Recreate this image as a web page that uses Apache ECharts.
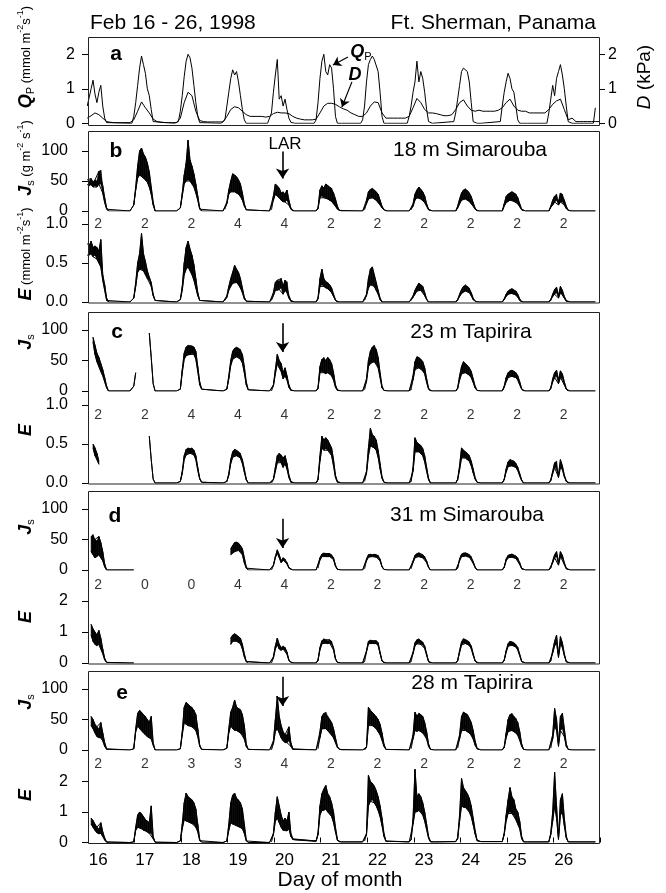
<!DOCTYPE html>
<html>
<head>
<meta charset="utf-8">
<script src="https://cdn.jsdelivr.net/npm/echarts@6/dist/echarts.min.js"></script>
<style>
  html, body { margin: 0; padding: 0; background: #fff; }
  #chart { width: 666px; height: 893px; }
</style>
</head>
<body>
<div id="chart"></div>
<script>
// ---- data ----
// rows = days 16..27, values at the listed local hours
const dayHours = [6, 7, 8, 9, 10, 11, 12, 13, 14, 15, 16, 17, 18, 19];
const qpHours = [5, 6, 7, 8, 9, 10, 11, 12, 13, 14, 15, 16, 17, 18, 19];
const vpdHours = [0, 2, 4, 6, 8, 10, 12, 14, 16, 18, 20, 22];
const dayLabels = [16, 17, 18, 19, 20, 21, 22, 23, 24, 25, 26];
const dayTicks = [16, 17, 18, 19, 20, 21, 22, 23, 24, 25, 26, 27];

// panel a: photon flux Qp (mmol m-2 s-1)
const qpRows = [
  [null, null, null, 0.5, 0.75, 1.0, 1.25, 0.85, 0.6, 0.9, 1.1, 0.5, 0.15, 0.02, 0],
  [0, 0, 0, 0.2, 0.6, 1.1, 1.6, 1.95, 1.7, 1.45, 1.0, 0.8, 0.4, 0.05, 0],
  [0, 0, 0.05, 0.35, 0.8, 1.35, 1.8, 2.0, 1.9, 1.6, 1.1, 0.6, 0.2, 0.02, 0],
  [0, 0, 0.1, 0.5, 0.9, 1.3, 1.55, 1.4, 1.5, 1.2, 0.8, 0.4, 0.1, 0, 0],
  [0, 0, 0.3, 0.9, 1.4, 1.85, 0.7, 0.8, 0.5, 0.7, 0.4, 0.15, 0.03, 0, 0],
  [0, 0.1, 0.6, 1.3, 1.8, 2.0, 1.5, 1.4, 1.7, 1.6, 1.0, 0.2, 0, 0, 0],
  [0, 0.1, 0.5, 1.2, 1.7, 1.85, 1.95, 1.85, 1.9, 1.5, 0.9, 0.2, 0, 0, 0],
  [0, 0.2, 0.5, 0.9, 1.2, 1.8, 1.2, 1.5, 1.3, 0.9, 0.4, 0.05, 0, 0, 0],
  [0.05, 0.3, 0.7, 1.1, 1.5, 1.6, 1.55, 1.5, 1.2, 0.6, 0.05, 0, 0, 0, 0],
  [0.05, 0.5, 0.9, 1.2, 1.45, 1.3, 1.0, 0.9, 0.5, 0.1, 0, 0, 0, 0, 0],
  [0, 0.3, 0.7, 1.1, 0.8, 1.3, 1.5, 1.7, 1.4, 1.0, 0.5, 0.05, 0, 0, 0],
  [0, 0.45]
];
// panel a: vapour pressure deficit D (kPa)
const vpdRows = [
  [null, null, null, null, 0.15, 0.22, 0.3, 0.25, 0.15, 0.05, 0.03, 0.02],
  [0.02, 0.02, 0.02, 0.02, 0.1, 0.35, 0.62, 0.45, 0.3, 0.12, 0.05, 0.03],
  [0.02, 0.02, 0.02, 0.02, 0.15, 0.6, 0.9, 0.8, 0.35, 0.08, 0.05, 0.04],
  [0.04, 0.04, 0.04, 0.04, 0.2, 0.4, 0.48, 0.45, 0.35, 0.25, 0.2, 0.2],
  [0.2, 0.2, 0.18, 0.2, 0.28, 0.32, 0.3, 0.3, 0.28, 0.2, 0.15, 0.12],
  [0.1, 0.1, 0.1, 0.12, 0.3, 0.5, 0.58, 0.58, 0.55, 0.48, 0.42, 0.38],
  [0.3, 0.25, 0.2, 0.2, 0.3, 0.5, 0.62, 0.6, 0.3, 0.15, 0.15, 0.15],
  [0.15, 0.15, 0.15, 0.2, 0.45, 0.72, 0.6, 0.4, 0.3, 0.3, 0.28, 0.25],
  [0.22, 0.22, 0.25, 0.4, 0.6, 0.68, 0.5, 0.38, 0.35, 0.38, 0.35, 0.35],
  [0.35, 0.35, 0.38, 0.45, 0.6, 0.7, 0.5, 0.38, 0.35, 0.35, 0.3, 0.3],
  [0.3, 0.3, 0.3, 0.4, 0.55, 0.65, 0.7, 0.4, 0.1, 0.15, 0.05, 0.05],
  [0.05, 0.05, 0.05, 0.05, 0.05]
];

// panel b: 18 m Simarouba, sap flux Js (upper / lower edge of trace) and E
const bJsHi = [
  [50, 50, 52, 50, 54, 48, 52, 50, 66, 68, 42, 22, 5, 0],
  [0, 0, 10, 40, 75, 100, 105, 95, 90, 80, 65, 40, 15, 0],
  [0, 0, 5, 30, 60, 80, 118, 85, 75, 62, 45, 25, 5, 0],
  [0, 3, 15, 35, 50, 62, 60, 57, 52, 45, 30, 12, 2, 0],
  [0, 2, 25, 45, 42, 38, 30, 32, 28, 35, 18, 5, 0, 0],
  [0, 5, 35, 42, 38, 45, 42, 40, 38, 30, 20, 8, 1, 0],
  [0, 2, 18, 32, 36, 38, 35, 32, 28, 18, 8, 2, 0, 0],
  [0, 2, 12, 28, 35, 40, 36, 32, 25, 12, 3, 0, 0, 0],
  [0, 8, 20, 30, 35, 37, 34, 30, 24, 14, 5, 0, 0, 0],
  [0, 12, 24, 28, 30, 32, 30, 28, 22, 12, 3, 0, 0, 0],
  [0, 8, 18, 25, 28, 15, 30, 28, 18, 8, 1, 0, 0, 0],
  [0]
];
const bJsLo = [
  [44, 44, 44, 42, 44, 40, 42, 40, 45, 45, 30, 14, 3, 0],
  [0, 0, 10, 35, 55, 60, 58, 55, 52, 48, 40, 28, 10, 0],
  [0, 0, 5, 25, 45, 50, 52, 50, 45, 40, 30, 18, 3, 0],
  [0, 3, 12, 28, 32, 32, 32, 30, 28, 24, 18, 8, 2, 0],
  [0, 2, 18, 28, 25, 22, 18, 15, 15, 18, 10, 3, 0, 0],
  [0, 4, 22, 25, 22, 22, 20, 18, 16, 12, 8, 3, 1, 0],
  [0, 2, 12, 20, 22, 22, 20, 18, 14, 10, 5, 2, 0, 0],
  [0, 2, 8, 18, 22, 22, 20, 18, 14, 8, 2, 0, 0, 0],
  [0, 5, 12, 18, 20, 20, 18, 16, 12, 8, 3, 0, 0, 0],
  [0, 8, 14, 16, 18, 18, 16, 15, 12, 7, 2, 0, 0, 0],
  [0, 6, 10, 15, 18, 10, 15, 15, 10, 4, 1, 0, 0, 0],
  [0]
];
const bEHi = [
  [0.75, 0.75, 0.75, 0.72, 0.78, 0.7, 0.72, 0.7, 0.65, 0.8, 0.35, 0.22, 0.05, 0],
  [0, 0, 0.05, 0.25, 0.5, 0.62, 0.88, 0.62, 0.52, 0.4, 0.32, 0.25, 0.1, 0.02],
  [0, 0, 0.03, 0.2, 0.5, 0.7, 0.78, 0.68, 0.6, 0.48, 0.3, 0.12, 0.02, 0],
  [0, 0.02, 0.08, 0.2, 0.3, 0.38, 0.47, 0.42, 0.38, 0.3, 0.18, 0.06, 0.01, 0],
  [0, 0.02, 0.12, 0.25, 0.28, 0.27, 0.3, 0.2, 0.28, 0.26, 0.08, 0.02, 0, 0],
  [0, 0.05, 0.3, 0.42, 0.3, 0.26, 0.25, 0.22, 0.18, 0.1, 0.03, 0, 0, 0],
  [0, 0.02, 0.1, 0.3, 0.42, 0.45, 0.35, 0.25, 0.15, 0.05, 0, 0, 0, 0],
  [0, 0.02, 0.08, 0.15, 0.2, 0.24, 0.22, 0.2, 0.12, 0.04, 0, 0, 0, 0],
  [0, 0.03, 0.1, 0.16, 0.2, 0.22, 0.2, 0.18, 0.12, 0.05, 0.01, 0, 0, 0],
  [0, 0.04, 0.1, 0.14, 0.16, 0.17, 0.15, 0.14, 0.1, 0.04, 0, 0, 0, 0],
  [0, 0.03, 0.1, 0.16, 0.19, 0.08, 0.2, 0.15, 0.07, 0.02, 0, 0, 0, 0],
  [0]
];
const bELo = [
  [0.6, 0.6, 0.6, 0.6, 0.62, 0.58, 0.6, 0.55, 0.5, 0.45, 0.28, 0.15, 0.02, 0],
  [0, 0, 0.05, 0.2, 0.38, 0.42, 0.42, 0.4, 0.35, 0.3, 0.28, 0.2, 0.08, 0.02],
  [0, 0, 0.03, 0.15, 0.35, 0.42, 0.45, 0.4, 0.35, 0.28, 0.18, 0.08, 0.02, 0],
  [0, 0.02, 0.06, 0.15, 0.2, 0.24, 0.25, 0.25, 0.22, 0.18, 0.12, 0.04, 0.01, 0],
  [0, 0.02, 0.08, 0.15, 0.15, 0.16, 0.18, 0.1, 0.15, 0.12, 0.05, 0.01, 0, 0],
  [0, 0.04, 0.2, 0.22, 0.2, 0.18, 0.17, 0.15, 0.12, 0.07, 0.02, 0, 0, 0],
  [0, 0.02, 0.08, 0.18, 0.22, 0.22, 0.2, 0.15, 0.1, 0.03, 0, 0, 0, 0],
  [0, 0.02, 0.06, 0.1, 0.14, 0.15, 0.15, 0.13, 0.08, 0.03, 0, 0, 0, 0],
  [0, 0.02, 0.07, 0.11, 0.13, 0.14, 0.13, 0.12, 0.08, 0.03, 0.01, 0, 0, 0],
  [0, 0.03, 0.07, 0.1, 0.11, 0.11, 0.1, 0.09, 0.06, 0.02, 0, 0, 0, 0],
  [0, 0.02, 0.07, 0.1, 0.12, 0.05, 0.12, 0.1, 0.05, 0.01, 0, 0, 0, 0],
  [0]
];

// panel c: 23 m Tapirira
const cJsHi = [
  [null, null, null, null, null, 88, 75, 62, 55, 45, 35, 22, 8, 0],
  [0, 0, 8, 30, null, null, null, null, null, null, 95, 55, 12, 0],
  [0, 0, 3, 35, 62, 72, 75, 74, 74, 72, 65, 40, 15, 3],
  [0, 0, 3, 25, 50, 65, 70, 72, 70, 68, 60, 40, 15, 2],
  [0, 0, 10, 35, 60, 50, 45, 30, 38, 25, 10, 2, 0, 0],
  [0, 5, 40, 52, 55, 50, 55, 52, 45, 30, 10, 2, 0, 0],
  [0, 2, 20, 50, 65, 72, 75, 68, 55, 30, 8, 1, 0, 0],
  [0, 3, 25, 48, 56, 55, 52, 48, 38, 20, 5, 0, 0, 0],
  [0, 5, 25, 40, 48, 45, 42, 38, 32, 20, 8, 1, 0, 0],
  [0, 8, 22, 30, 33, 34, 32, 30, 25, 15, 4, 0, 0, 0],
  [0, 5, 20, 30, 34, 18, 33, 28, 15, 4, 0, 0, 0, 0],
  [0]
];
const cJsLo = [
  [null, null, null, null, null, 80, 60, 48, 40, 32, 25, 15, 5, 0],
  [0, 0, 8, 30, null, null, null, null, null, null, 95, 55, 12, 0],
  [0, 0, 3, 30, 52, 58, 60, 60, 62, 60, 52, 32, 10, 3],
  [0, 0, 3, 20, 42, 52, 55, 56, 55, 52, 46, 30, 10, 2],
  [0, 0, 8, 28, 45, 38, 32, 20, 25, 18, 6, 1, 0, 0],
  [0, 4, 30, 32, 30, 28, 30, 28, 25, 18, 6, 1, 0, 0],
  [0, 2, 15, 40, 45, 48, 48, 45, 38, 22, 5, 1, 0, 0],
  [0, 2, 18, 35, 38, 38, 36, 33, 28, 14, 3, 0, 0, 0],
  [0, 4, 18, 28, 30, 30, 28, 26, 22, 14, 5, 1, 0, 0],
  [0, 6, 15, 22, 24, 24, 23, 22, 18, 10, 3, 0, 0, 0],
  [0, 4, 15, 22, 24, 12, 22, 20, 10, 3, 0, 0, 0, 0],
  [0]
];
const cEHi = [
  [null, null, null, null, null, 0.5, 0.45, 0.38, 0.28, null, null, null, null, null],
  [null, null, null, null, null, null, null, null, null, null, 0.6, 0.3, 0.05, 0],
  [0, 0, 0.02, 0.15, 0.35, 0.43, 0.45, 0.44, 0.45, 0.42, 0.35, 0.2, 0.06, 0.01],
  [0, 0, 0.02, 0.12, 0.3, 0.4, 0.43, 0.42, 0.4, 0.38, 0.3, 0.18, 0.05, 0],
  [0, 0, 0.05, 0.2, 0.35, 0.38, 0.36, 0.32, 0.35, 0.25, 0.1, 0.02, 0, 0],
  [0, 0.05, 0.35, 0.6, 0.55, 0.58, 0.55, 0.5, 0.45, 0.3, 0.1, 0.02, 0, 0],
  [0, 0.02, 0.15, 0.45, 0.7, 0.62, 0.6, 0.55, 0.42, 0.25, 0.08, 0.01, 0, 0],
  [0, 0.03, 0.2, 0.58, 0.52, 0.5, 0.48, 0.44, 0.35, 0.2, 0.06, 0, 0, 0],
  [0, 0.05, 0.22, 0.45, 0.42, 0.4, 0.38, 0.35, 0.28, 0.18, 0.07, 0.01, 0, 0],
  [0, 0.05, 0.18, 0.27, 0.3, 0.28, 0.28, 0.25, 0.2, 0.12, 0.04, 0, 0, 0],
  [0, 0.04, 0.15, 0.26, 0.28, 0.1, 0.3, 0.22, 0.1, 0.03, 0, 0, 0, 0],
  [0]
];
const cELo = [
  [null, null, null, null, null, 0.45, 0.35, 0.3, 0.24, null, null, null, null, null],
  [null, null, null, null, null, null, null, null, null, null, 0.6, 0.3, 0.05, 0],
  [0, 0, 0.02, 0.12, 0.3, 0.36, 0.38, 0.38, 0.38, 0.36, 0.3, 0.16, 0.05, 0.01],
  [0, 0, 0.02, 0.1, 0.25, 0.33, 0.35, 0.35, 0.34, 0.32, 0.25, 0.14, 0.04, 0],
  [0, 0, 0.04, 0.15, 0.26, 0.28, 0.26, 0.2, 0.25, 0.18, 0.07, 0.01, 0, 0],
  [0, 0.04, 0.28, 0.45, 0.42, 0.44, 0.42, 0.4, 0.35, 0.22, 0.07, 0.01, 0, 0],
  [0, 0.02, 0.12, 0.35, 0.48, 0.46, 0.45, 0.42, 0.33, 0.18, 0.06, 0.01, 0, 0],
  [0, 0.02, 0.15, 0.4, 0.4, 0.4, 0.38, 0.35, 0.27, 0.15, 0.04, 0, 0, 0],
  [0, 0.04, 0.17, 0.32, 0.33, 0.32, 0.3, 0.28, 0.22, 0.13, 0.05, 0.01, 0, 0],
  [0, 0.04, 0.14, 0.21, 0.22, 0.22, 0.21, 0.2, 0.16, 0.09, 0.03, 0, 0, 0],
  [0, 0.03, 0.12, 0.2, 0.2, 0.07, 0.2, 0.17, 0.08, 0.02, 0, 0, 0, 0],
  [0]
];

// panel d: 31 m Simarouba
const N14 = [null, null, null, null, null, null, null, null, null, null, null, null, null, null];
const dJsHi = [
  [null, null, null, null, 55, 58, 50, 48, 55, 45, 30, 10, 0, 0],
  [0, 0, 0, null, null, null, null, null, null, null, null, null, null, null],
  N14,
  [null, null, null, null, 35, 40, 45, 46, 44, 40, 35, 20, 5, 0],
  [0, 0, 8, 22, 33, 25, 15, 20, 18, 12, 4, 1, 0, 0],
  [0, 3, 20, 26, 28, 27, 26, 27, 25, 20, 8, 1, 0, 0],
  [0, 2, 18, 25, 26, 25, 26, 25, 24, 18, 6, 1, 0, 0],
  [0, 2, 15, 24, 27, 28, 26, 25, 22, 15, 5, 0, 0, 0],
  [0, 4, 18, 26, 28, 28, 27, 25, 22, 14, 5, 0, 0, 0],
  [0, 5, 18, 24, 25, 26, 24, 23, 20, 12, 3, 0, 0, 0],
  [0, 4, 15, 25, 30, 12, 30, 24, 12, 3, 0, 0, 0, 0],
  [0]
];
const dJsLo = [
  [null, null, null, null, 30, 25, 20, 22, 25, 20, 15, 5, 0, 0],
  [0, 0, 0, null, null, null, null, null, null, null, null, null, null, null],
  N14,
  [null, null, null, null, 25, 28, 30, 32, 32, 30, 25, 12, 3, 0],
  [0, 0, 7, 20, 28, 20, 12, 16, 15, 10, 3, 1, 0, 0],
  [0, 3, 16, 22, 23, 22, 22, 22, 21, 17, 6, 1, 0, 0],
  [0, 2, 15, 21, 22, 22, 22, 21, 20, 15, 5, 1, 0, 0],
  [0, 2, 12, 20, 22, 22, 21, 20, 18, 12, 4, 0, 0, 0],
  [0, 3, 15, 22, 22, 23, 22, 21, 18, 11, 4, 0, 0, 0],
  [0, 4, 15, 20, 21, 21, 20, 19, 16, 9, 2, 0, 0, 0],
  [0, 3, 12, 20, 22, 8, 22, 19, 9, 2, 0, 0, 0, 0],
  [0]
];
const dEHi = [
  [null, null, null, null, 1.25, 1.1, 1.0, 0.9, 1.05, 0.8, 0.45, 0.15, 0.02, 0],
  [0, 0, 0, null, null, null, null, null, null, null, null, null, null, null],
  N14,
  [null, null, null, null, 0.8, 0.9, 0.95, 0.9, 0.85, 0.8, 0.6, 0.3, 0.05, 0],
  [0, 0, 0.2, 0.55, 0.8, 0.6, 0.5, 0.55, 0.5, 0.35, 0.1, 0.02, 0, 0],
  [0, 0.1, 0.5, 0.72, 0.78, 0.75, 0.72, 0.75, 0.7, 0.5, 0.15, 0.02, 0, 0],
  [0, 0.05, 0.4, 0.7, 0.74, 0.72, 0.7, 0.72, 0.65, 0.35, 0.08, 0.01, 0, 0],
  [0, 0.05, 0.35, 0.65, 0.75, 0.78, 0.72, 0.68, 0.55, 0.3, 0.05, 0, 0, 0],
  [0, 0.08, 0.4, 0.68, 0.78, 0.75, 0.72, 0.68, 0.55, 0.3, 0.08, 0, 0, 0],
  [0, 0.1, 0.4, 0.62, 0.7, 0.68, 0.65, 0.6, 0.5, 0.28, 0.06, 0, 0, 0],
  [0, 0.08, 0.4, 0.7, 0.9, 0.25, 0.85, 0.65, 0.3, 0.05, 0, 0, 0, 0],
  [0]
];
const dELo = [
  [null, null, null, null, 0.9, 0.7, 0.6, 0.55, 0.6, 0.45, 0.3, 0.1, 0.02, 0],
  [0, 0, 0, null, null, null, null, null, null, null, null, null, null, null],
  N14,
  [null, null, null, null, 0.6, 0.7, 0.72, 0.7, 0.68, 0.62, 0.45, 0.2, 0.04, 0],
  [0, 0, 0.15, 0.45, 0.6, 0.45, 0.4, 0.45, 0.4, 0.28, 0.08, 0.02, 0, 0],
  [0, 0.08, 0.42, 0.62, 0.65, 0.64, 0.62, 0.64, 0.6, 0.42, 0.12, 0.02, 0, 0],
  [0, 0.04, 0.35, 0.62, 0.64, 0.63, 0.62, 0.63, 0.56, 0.3, 0.06, 0.01, 0, 0],
  [0, 0.04, 0.3, 0.55, 0.62, 0.64, 0.6, 0.58, 0.47, 0.25, 0.04, 0, 0, 0],
  [0, 0.07, 0.34, 0.58, 0.64, 0.63, 0.6, 0.57, 0.46, 0.25, 0.06, 0, 0, 0],
  [0, 0.08, 0.34, 0.54, 0.58, 0.57, 0.55, 0.52, 0.42, 0.23, 0.05, 0, 0, 0],
  [0, 0.06, 0.32, 0.55, 0.65, 0.18, 0.62, 0.5, 0.24, 0.04, 0, 0, 0, 0],
  [0]
];

// panel e: 28 m Tapirira
const eJsHi = [
  [null, null, null, null, 55, 50, 42, 38, 35, 45, 28, 12, 2, 0],
  [0, 0, 2, 35, 60, 65, 62, 58, 55, 50, 45, 55, 12, 0],
  [0, 0, 2, 30, 70, 78, 75, 72, 70, 65, 58, 35, 8, 1],
  [0, 0, 3, 35, 62, 70, 82, 70, 68, 66, 58, 40, 10, 1],
  [0, 0, 15, 50, 88, 55, 40, 30, 25, 25, 38, 12, 2, 0],
  [0, 2, 30, 55, 60, 62, 55, 50, 45, 35, 20, 6, 1, 0],
  [0, 0, 5, 70, 65, 62, 58, 55, 50, 42, 28, 10, 1, 0],
  [0, 2, 25, 62, 55, 60, 58, 55, 45, 30, 10, 1, 0, 0],
  [0, 3, 25, 55, 62, 60, 58, 52, 45, 32, 15, 3, 0, 0],
  [0, 5, 28, 50, 58, 60, 55, 52, 45, 30, 10, 1, 0, 0],
  [0, 3, 25, 68, 50, 10, 55, 60, 35, 10, 1, 0, 0, 0],
  [0]
];
const eJsLo = [
  [null, null, null, null, 40, 35, 28, 22, 20, 20, 15, 6, 1, 0],
  [0, 0, 2, 30, 40, 35, 32, 28, 25, 22, 20, 18, 8, 0],
  [0, 0, 2, 25, 45, 42, 40, 40, 38, 36, 32, 22, 6, 1],
  [0, 0, 3, 28, 40, 35, 32, 32, 30, 28, 25, 18, 6, 1],
  [0, 0, 10, 30, 35, 28, 20, 15, 12, 12, 15, 6, 1, 0],
  [0, 2, 20, 35, 35, 35, 32, 28, 25, 20, 12, 4, 1, 0],
  [0, 0, 4, 40, 42, 40, 38, 35, 30, 25, 16, 6, 1, 0],
  [0, 2, 18, 32, 30, 32, 30, 28, 25, 18, 6, 1, 0, 0],
  [0, 3, 18, 32, 34, 32, 30, 28, 24, 18, 8, 2, 0, 0],
  [0, 4, 20, 30, 32, 32, 30, 28, 24, 16, 6, 1, 0, 0],
  [0, 3, 18, 40, 32, 6, 32, 35, 22, 6, 1, 0, 0, 0],
  [0]
];
const eEHi = [
  [null, null, null, null, 0.8, 0.72, 0.6, 0.5, 0.45, 0.65, 0.35, 0.15, 0.02, 0],
  [0, 0, 0.02, 0.5, 0.9, 1.0, 0.95, 0.85, 0.75, 0.7, 0.65, 1.2, 0.2, 0.01],
  [0, 0.02, 0.05, 0.6, 1.3, 1.62, 1.5, 1.45, 1.4, 1.3, 1.1, 0.6, 0.1, 0.01],
  [0, 0.02, 0.05, 0.6, 1.3, 1.55, 1.62, 1.45, 1.4, 1.3, 1.1, 0.6, 0.08, 0],
  [0, 0.02, 0.3, 1.0, 1.5, 1.2, 0.9, 0.7, 0.8, 0.7, 1.0, 0.3, 0.12, 0.1],
  [0.05, 0.3, 1.2, 1.6, 1.75, 1.87, 1.6, 1.5, 1.3, 1.0, 0.5, 0.1, 0.02, 0.02],
  [0.02, 0.05, 0.3, 2.2, 2.0, 1.95, 1.85, 1.7, 1.5, 1.2, 0.8, 0.3, 0.05, 0.02],
  [0.02, 0.1, 0.8, 2.4, 1.5, 1.6, 1.5, 1.3, 1.0, 0.6, 0.2, 0.03, 0.02, 0.02],
  [0.03, 0.15, 0.9, 2.1, 1.8, 1.7, 1.6, 1.45, 1.2, 0.8, 0.4, 0.08, 0.03, 0.03],
  [0.03, 0.3, 0.9, 1.4, 1.8, 1.5, 1.4, 1.1, 1.0, 0.7, 0.2, 0.02, 0.02, 0.02],
  [0.02, 0.3, 1.0, 2.3, 1.2, 0.15, 1.4, 1.6, 0.8, 0.2, 0.02, 0.02, 0.02, 0.02],
  [0.02]
];
const eELo = [
  [null, null, null, null, 0.6, 0.5, 0.4, 0.32, 0.28, 0.3, 0.2, 0.08, 0.01, 0],
  [0, 0, 0.02, 0.4, 0.5, 0.48, 0.45, 0.4, 0.38, 0.35, 0.3, 0.3, 0.12, 0.01],
  [0, 0.02, 0.05, 0.45, 0.75, 0.7, 0.68, 0.65, 0.62, 0.6, 0.5, 0.35, 0.06, 0.01],
  [0, 0.02, 0.05, 0.4, 0.65, 0.6, 0.58, 0.55, 0.52, 0.5, 0.45, 0.3, 0.05, 0],
  [0, 0.02, 0.25, 0.7, 0.8, 0.65, 0.5, 0.4, 0.42, 0.38, 0.45, 0.2, 0.1, 0.08],
  [0.04, 0.25, 0.9, 1.05, 1.05, 1.1, 1.0, 0.95, 0.85, 0.65, 0.35, 0.07, 0.02, 0.02],
  [0.02, 0.05, 0.25, 1.2, 1.35, 1.4, 1.3, 1.2, 1.05, 0.85, 0.55, 0.2, 0.04, 0.02],
  [0.02, 0.08, 0.6, 1.0, 1.0, 1.05, 1.0, 0.9, 0.7, 0.42, 0.14, 0.02, 0.02, 0.02],
  [0.03, 0.12, 0.7, 1.2, 1.15, 1.15, 1.1, 1.0, 0.85, 0.58, 0.28, 0.06, 0.03, 0.03],
  [0.03, 0.25, 0.7, 0.95, 1.0, 0.95, 0.9, 0.75, 0.6, 0.45, 0.12, 0.02, 0.02, 0.02],
  [0.02, 0.25, 0.7, 1.2, 0.8, 0.1, 0.9, 1.0, 0.55, 0.15, 0.02, 0.02, 0.02, 0.02],
  [0.02]
];

// number of sensors per day
const countsB = [2, 2, 2, 4, 4, 2, 2, 2, 2, 2, 2];
const countsC = [2, 2, 4, 4, 4, 2, 2, 2, 2, 2, 2];
const countsD = [2, 0, 0, 4, 4, 2, 2, 2, 2, 2, 2];
const countsE = [2, 2, 3, 3, 4, 2, 2, 2, 2, 2, 2];

// time of the LAR arrow
const larTime = 20.53;

// ---- chart ----
const chart = echarts.init(document.getElementById('chart'), null, { renderer: 'canvas' });
const FONT = '"Liberation Sans", Arial, Helvetica, sans-serif';
const X_MIN = 16.35, X_MAX = 27.35;
const TICK_OFF = X_MIN - 16;   // axis ticks
const LABEL_OFF = 0.57;        // day labels sit mid-day

function toPoints(rows, hrs) {
  const out = [];
  rows.forEach((row, i) => {
    row.forEach((v, j) => out.push([16 + i + hrs[j] / 24, v]));
  });
  return out;
}

// layout of the nine plotting areas
const L = 88, W = 512;
const grids = [
  { top: 37.05, height: 86.25 },  // a
  { top: 133, height: 78 },       // b Js
  { top: 216.2, height: 85.8 },   // b E
  { top: 311.7, height: 79.3 },   // c Js
  { top: 397.2, height: 85.8 },   // c E
  { top: 490.7, height: 79.3 },   // d Js
  { top: 576.2, height: 86.8 },   // d E
  { top: 670.7, height: 79.3 },   // e Js
  { top: 757.1, height: 85.4 }    // e E
].map(g => ({ left: L, width: W, top: g.top, height: g.height }));
const boxes = [[37, 125], [131, 302.5], [312, 483.5], [491, 663.5], [671, 843]];

const xAxes = grids.map((g, i) => ({
  type: 'value', gridIndex: i, min: X_MIN, max: X_MAX,
  axisLine: { show: false }, splitLine: { show: false },
  axisTick: {
    show: i === 8, inside: true, length: 5,
    customValues: dayTicks.map(d => d + TICK_OFF),
    lineStyle: { color: '#000' }
  },
  axisLabel: {
    show: i === 8, customValues: dayLabels.map(d => d + LABEL_OFF),
    formatter: v => String(Math.floor(v)), margin: 9,
    fontSize: 17, color: '#000', fontFamily: FONT
  }
}));

function yAx(grid, max, ticks, dec, extra) {
  return Object.assign({
    type: 'value', gridIndex: grid, min: 0, max: max,
    axisLine: { show: false }, splitLine: { show: false },
    axisTick: { show: true, length: 6, customValues: ticks, lineStyle: { color: '#000' } },
    axisLabel: {
      customValues: ticks, margin: 20, fontSize: 16, color: '#000', fontFamily: FONT,
      formatter: v => v.toFixed(dec)
    }
  }, extra || {});
}
const yAxes = [
  yAx(0, 2.5, [0, 1, 2], 0),
  yAx(1, 130, [0, 50, 100], 0),
  yAx(2, 1.1, [0, 0.5, 1], 1),
  yAx(3, 130, [0, 50, 100], 0),
  yAx(4, 1.1, [0, 0.5, 1], 1),
  yAx(5, 130, [0, 50, 100], 0),
  yAx(6, 2.8, [0, 1, 2], 0),
  yAx(7, 130, [0, 50, 100], 0),
  yAx(8, 2.8, [0, 1, 2], 0),
  yAx(0, 2.5, [0, 1, 2], 0, { position: 'right' })
];
yAxes[0].axisLabel.margin = 13;
yAxes[9].axisLabel.margin = 8;
yAxes[9].axisTick.length = 5;

const lineBase = { type: 'line', symbol: 'none', silent: true, animation: false };

function arrowLine(y1, y2) {
  return {
    silent: true, symbol: ['none', 'arrow'], symbolSize: 10, animation: false, z: 30,
    lineStyle: { color: '#000', width: 1.6, type: 'solid' }, label: { show: false },
    data: [[{ coord: [larTime, y1] }, { coord: [larTime, y2] }]]
  };
}

// noisy trace drawn as its upper and lower edge with the space between filled
function band(gridIdx, hi, lo, name, markLine) {
  const hiPts = toPoints(hi, dayHours);
  const loPts = toPoints(lo, dayHours);
  const quads = [];
  for (let k = 0; k < hiPts.length - 1; k++) {
    const h0 = hiPts[k][1], l0 = loPts[k][1], h1 = hiPts[k + 1][1], l1 = loPts[k + 1][1];
    if (h0 == null || l0 == null || h1 == null || l1 == null) continue;
    if (h0 - l0 <= 0 && h1 - l1 <= 0) continue;
    quads.push([hiPts[k][0], l0, h0, hiPts[k + 1][0], l1, h1]);
  }
  const fill = {
    type: 'custom', name: name + '_band', xAxisIndex: gridIdx, yAxisIndex: gridIdx,
    silent: true, animation: false, clip: true, z: 2,
    encode: { x: [0, 3], y: [1, 2, 4, 5] },
    data: quads,
    renderItem: (params, api) => {
      const p = [
        api.coord([api.value(0), api.value(1)]),
        api.coord([api.value(0), api.value(2)]),
        api.coord([api.value(3), api.value(5)]),
        api.coord([api.value(3), api.value(4)])
      ];
      return { type: 'polygon', shape: { points: p },
        style: { fill: '#000', stroke: '#000', lineWidth: 0.6 } };
    }
  };
  const top = Object.assign({}, lineBase, {
    name: name, xAxisIndex: gridIdx, yAxisIndex: gridIdx, z: 3,
    data: hiPts, lineStyle: { color: '#000', width: 1 }
  });
  const bottom = Object.assign({}, lineBase, {
    name: name + '_lo', xAxisIndex: gridIdx, yAxisIndex: gridIdx, z: 3,
    data: loPts, lineStyle: { color: '#000', width: 1 }
  });
  if (markLine) top.markLine = markLine;
  return [fill, top, bottom];
}

function countSeries(gridIdx, counts, yPos) {
  return {
    type: 'scatter', xAxisIndex: gridIdx, yAxisIndex: gridIdx, silent: true, animation: false,
    symbolSize: 1, itemStyle: { color: 'rgba(0,0,0,0)' }, z: 5,
    data: counts.map((c, i) => [dayLabels[i] + LABEL_OFF, yPos, c]),
    label: { show: true, position: 'inside', formatter: p => String(p.value[2]),
      fontSize: 14, color: '#000', fontFamily: FONT }
  };
}

const series = [
  Object.assign({}, lineBase, {
    name: 'Qp', xAxisIndex: 0, yAxisIndex: 0, data: toPoints(qpRows, qpHours),
    lineStyle: { color: '#000', width: 1 },
    markLine: {
      silent: true, symbol: ['none', 'arrow'], symbolSize: 8, animation: false,
      lineStyle: { color: '#000', width: 1.2, type: 'solid' }, label: { show: false },
      data: [
        [{ coord: [21.935, 1.92] }, { coord: [21.613, 1.69] }],
        [{ coord: [22.02, 1.2] }, { coord: [21.806, 0.47] }]
      ]
    }
  }),
  Object.assign({}, lineBase, {
    name: 'D', xAxisIndex: 0, yAxisIndex: 9, data: toPoints(vpdRows, vpdHours),
    lineStyle: { color: '#000', width: 1 }
  }),
  ...band(1, bJsHi, bJsLo, 'bJs', arrowLine(99, 54)),
  ...band(2, bEHi, bELo, 'bE'),
  ...band(3, cJsHi, cJsLo, 'cJs', arrowLine(111, 64)),
  ...band(4, cEHi, cELo, 'cE'),
  ...band(5, dJsHi, dJsLo, 'dJs', arrowLine(84, 36)),
  ...band(6, dEHi, dELo, 'dE'),
  ...band(7, eJsHi, eJsLo, 'eJs', arrowLine(120, 72)),
  ...band(8, eEHi, eELo, 'eE'),
  countSeries(2, countsB, 1.0),
  countSeries(4, countsC, 0.87),
  countSeries(6, countsD, 2.52),
  countSeries(8, countsE, 2.57)
];

// text helpers
const rich = {
  bi: { fontSize: 18, fontWeight: 'bold', fontStyle: 'italic', fontFamily: FONT, lineHeight: 20 },
  i: { fontSize: 19, fontStyle: 'italic', fontFamily: FONT, lineHeight: 20 },
  n: { fontSize: 13, fontFamily: FONT, lineHeight: 20 },
  n2: { fontSize: 19, fontFamily: FONT, lineHeight: 20 },
  sup: { fontSize: 9, fontFamily: FONT, lineHeight: 11, verticalAlign: 'top' },
  sub: { fontSize: 11, fontFamily: FONT, lineHeight: 13, verticalAlign: 'bottom' }
};
function vText(x, y, text) {
  return { type: 'text', x: x, y: y, rotation: Math.PI / 2, silent: true, z: 20,
    style: { text: text, rich: rich, fill: '#000', align: 'center', verticalAlign: 'middle' } };
}
function hText(x, y, text, size, align, weight) {
  return { type: 'text', x: x, y: y, silent: true, z: 20,
    style: { text: text, fill: '#000', fontSize: size, fontFamily: FONT,
      fontWeight: weight || 'normal', align: align || 'center', verticalAlign: 'middle' } };
}

const graphic = [];
boxes.forEach(b => graphic.push({
  type: 'rect', silent: true, z: 10,
  shape: { x: L + 0.5, y: b[0] + 0.5, width: W - 1, height: b[1] - b[0] },
  style: { fill: 'none', stroke: '#222', lineWidth: 1 }
}));
graphic.push(
  hText(90, 23, 'Feb 16 - 26, 1998', 21, 'left'),
  hText(596, 23, 'Ft. Sherman, Panama', 21, 'right'),
  hText(116, 54, 'a', 21, 'center', 'bold'),
  hText(116, 151, 'b', 21, 'center', 'bold'),
  hText(117, 332, 'c', 21, 'center', 'bold'),
  hText(115, 516, 'd', 21, 'center', 'bold'),
  hText(122, 693, 'e', 21, 'center', 'bold'),
  hText(470, 150, '18 m Simarouba', 21),
  hText(471, 332, '23 m Tapirira', 21),
  hText(467, 515, '31 m Simarouba', 21),
  hText(472, 683, '28 m Tapirira', 21),
  hText(285, 144, 'LAR', 17),
  hText(340, 880, 'Day of month', 21),
  { type: 'text', x: 361, y: 52, silent: true, z: 20,
    style: { text: '{bi|Q}{sub|P}', rich: rich, fill: '#000', align: 'center', verticalAlign: 'middle' } },
  { type: 'text', x: 355, y: 75, silent: true, z: 20,
    style: { text: '{bi|D}', rich: rich, fill: '#000', align: 'center', verticalAlign: 'middle' } },
  vText(26, 57, '{bi|Q}{sub|P}{n| (mmol m}{sup|-2}{n|s}{sup|-1}{n|)}'),
  vText(26, 158, '{bi|J}{sub|s}{n| (g m}{sup|-2}{n| s}{sup|-1}{n|)}'),
  vText(26, 254, '{bi|E}{n| (mmol m}{sup|-2}{n|s}{sup|-1}{n|)}'),
  vText(26, 342, '{bi|J}{sub|s}'),
  vText(26, 430, '{bi|E}'),
  vText(26, 527, '{bi|J}{sub|s}'),
  vText(26, 617, '{bi|E}'),
  vText(26, 702, '{bi|J}{sub|s}'),
  vText(26, 795, '{bi|E}'),
  vText(645, 77, '{i|D}{n2| (kPa)}')
);

const option = {
  animation: false,
  backgroundColor: '#fff',
  textStyle: { fontFamily: FONT, color: '#000' },
  grid: grids,
  xAxis: xAxes,
  yAxis: yAxes,
  series: series,
  graphic: graphic
};
chart.setOption(option);
</script>
</body>
</html>
